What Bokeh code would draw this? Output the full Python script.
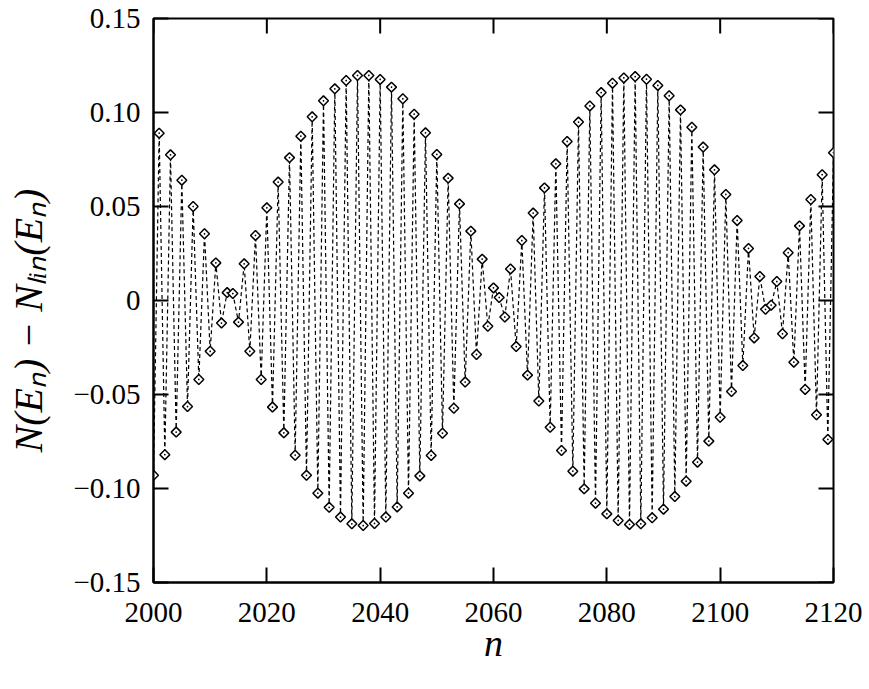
import math
from bokeh.plotting import figure
from bokeh.models import Range1d, FixedTicker, ColumnDataSource
from bokeh.embed import file_html
from bokeh.resources import INLINE

# ---------------- data ----------------
n_values = list(range(2000, 2121))
deviation = [
    -0.0930, 0.0890, -0.0820, 0.0775, -0.0700, 0.0640, -0.0564, 0.0500, -0.0420, 0.0355,   # 2000-2009
    -0.0270, 0.0200, -0.0120, 0.0042, 0.0037, -0.0115, 0.0195, -0.0270, 0.0346, -0.0420,    # 2010-2019
    0.0493, -0.0567, 0.0630, -0.0704, 0.0760, -0.0823, 0.0874, -0.0930, 0.0977, -0.1025,    # 2020-2029
    0.1062, -0.1100, 0.1126, -0.1152, 0.1170, -0.1188, 0.1197, -0.1197, 0.1197, -0.1186,    # 2030-2039
    0.1176, -0.1152, 0.1135, -0.1098, 0.1073, -0.1025, 0.0991, -0.0933, 0.0892, -0.0824,    # 2040-2049
    0.0777, -0.0706, 0.0651, -0.0573, 0.0514, -0.0434, 0.0369, -0.0287, 0.0220, -0.0137,    # 2050-2059
    0.0067, 0.0016, -0.0088, 0.0168, -0.0245, 0.0319, -0.0397, 0.0465, -0.0535, 0.0599,     # 2060-2069
    -0.0674, 0.0727, -0.0798, 0.0846, -0.0908, 0.0949, -0.1002, 0.1035, -0.1078, 0.1106,    # 2070-2079
    -0.1135, 0.1156, -0.1170, 0.1184, -0.1191, 0.1191, -0.1188, 0.1177, -0.1156, 0.1144,    # 2080-2089
    -0.1110, 0.1089, -0.1043, 0.1014, -0.0961, 0.0922, -0.0860, 0.0816, -0.0748, 0.0695,    # 2090-2099
    -0.0621, 0.0564, -0.0484, 0.0426, -0.0346, 0.0277, -0.0199, 0.0128, -0.0047, -0.0025,   # 2100-2109
    0.0101, -0.0177, 0.0254, -0.0328, 0.0397, -0.0473, 0.0537, -0.0608, 0.0669, -0.0739,    # 2110-2119
    0.0786,                                                                                  # 2120
]
x_ticks = [2000, 2020, 2040, 2060, 2080, 2100, 2120]
x_tick_labels = ["2000", "2020", "2040", "2060", "2080", "2100", "2120"]
y_ticks = [-0.15, -0.10, -0.05, 0.0, 0.05, 0.10, 0.15]
y_tick_labels = ["\u22120.15", "\u22120.10", "\u22120.05", "0", "0.05", "0.10", "0.15"]
x_label = "n"
y_label = "N(E\u2099) \u2212 N\u2097\u1d62\u2099(E\u2099)\u2002\u2002"

# ---------------- figure ----------------
W, H = 869, 689
B_LEFT, B_RIGHT, B_TOP, B_BOTTOM = 153, 36, 18, 107
X0, X1 = 2000, 2120
Y0, Y1 = -0.15, 0.15
FW = W - B_LEFT - B_RIGHT   # frame width in px
FH = H - B_TOP - B_BOTTOM   # frame height in px

p = figure(width=W, height=H, output_backend="svg", toolbar_location=None,
           x_range=Range1d(X0, X1), y_range=Range1d(Y0, Y1),
           min_border_left=B_LEFT, min_border_right=B_RIGHT,
           min_border_top=B_TOP, min_border_bottom=B_BOTTOM,
           background_fill_color="white", border_fill_color="white")
p.xgrid.visible = False
p.ygrid.visible = False
p.outline_line_color = "black"
p.outline_line_width = 2

FONT = "Liberation Serif"
TICK_PX = 15


def style_axis(ax, ticks):
    ax.ticker = FixedTicker(ticks=ticks)
    ax.minor_tick_line_color = None
    ax.major_tick_in = TICK_PX
    ax.major_tick_out = 0
    ax.major_tick_line_width = 2
    ax.major_tick_line_color = "black"
    ax.axis_line_width = 2
    ax.axis_line_color = "black"
    ax.major_label_text_font = FONT
    ax.major_label_text_font_size = "29px"
    ax.major_label_text_color = "black"


xb = p.xaxis[0]
style_axis(xb, x_ticks)
xb.major_label_overrides = {str(t): s for t, s in zip(x_ticks, x_tick_labels)}
xb.major_label_standoff = 20
xb.axis_label = x_label
xb.axis_label_text_font = FONT
xb.axis_label_text_font_style = "italic"
xb.axis_label_text_font_size = "38px"
xb.axis_label_text_color = "black"
xb.axis_label_standoff = -3

yl = p.yaxis[0]
style_axis(yl, y_ticks)
yl.major_label_overrides = {t: s for t, s in zip(y_ticks, y_tick_labels)}
yl.major_label_standoff = 13
yl.axis_label = y_label
yl.axis_label_text_font = FONT
yl.axis_label_text_font_style = "italic"
yl.axis_label_text_font_size = "40px"
yl.axis_label_text_color = "black"
yl.axis_label_standoff = 19

# mirrored inward ticks on the top and right edges, drawn as dash markers from the tick arrays
tick_dy = TICK_PX / FH * (Y1 - Y0)
tick_dx = TICK_PX / FW * (X1 - X0)
nx, ny = len(x_ticks), len(y_ticks)
vt_src = ColumnDataSource(data=dict(x=x_ticks, y=[Y1 - tick_dy / 2] * nx))
ht_src = ColumnDataSource(data=dict(x=[X1 - tick_dx / 2] * ny, y=y_ticks))
p.scatter("x", "y", source=vt_src, marker="dash", angle=math.pi / 2, size=TICK_PX,
          line_color="black", line_width=2)
p.scatter("x", "y", source=ht_src, marker="dash", size=TICK_PX,
          line_color="black", line_width=2)

# ---------------- data marks ----------------
src = ColumnDataSource(data=dict(n=n_values, d=deviation))
p.line("n", "d", source=src, line_color="black", line_width=1.2, line_dash="4 3")
p.scatter("n", "d", source=src, marker="square_dot", angle=math.pi / 4, size=7,
          fill_color="white", line_color="black", line_width=1.5)

open("out.html", "w").write(file_html(p, INLINE))
